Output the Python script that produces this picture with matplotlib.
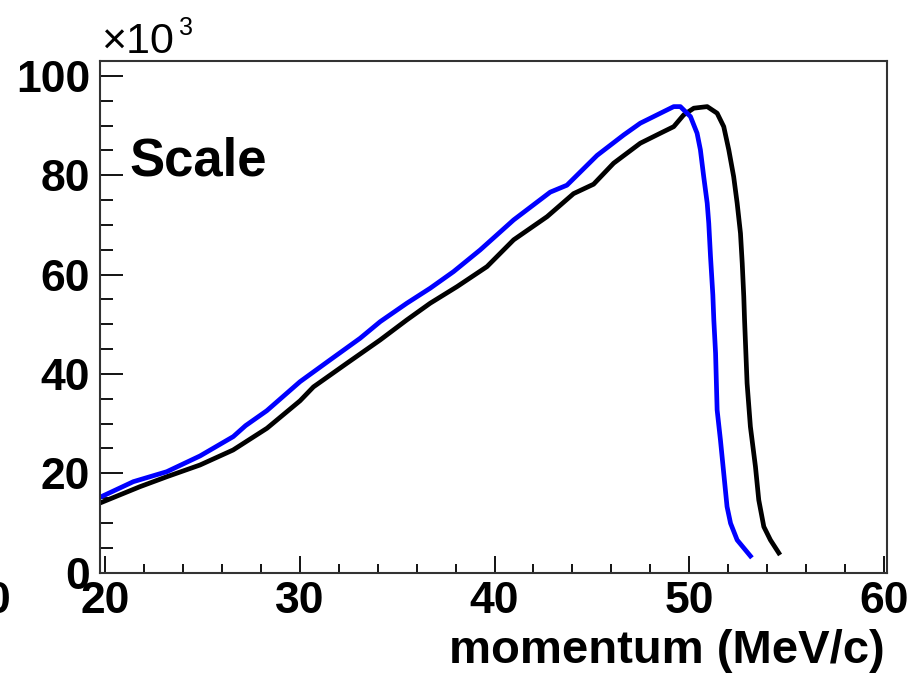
import matplotlib
matplotlib.use("Agg")
import matplotlib.pyplot as plt
from matplotlib.ticker import MultipleLocator

plt.rcParams['font.family'] = ['Liberation Sans', 'DejaVu Sans']
plt.rcParams['font.weight'] = 'bold'

# momentum (MeV/c) and counts (x10^3)
blue_p = [19.72, 21.43, 23.15, 24.86, 26.57, 27.20, 28.29, 30.00, 31.54, 33.09,
          34.12, 35.49, 36.69, 37.89, 39.26, 40.98, 42.86, 43.72, 45.27, 46.64,
          47.49, 48.35, 49.21, 49.55, 50.07, 50.41, 50.58, 50.75, 50.93, 51.01,
          51.10, 51.22, 51.27, 51.36, 51.44, 51.61, 51.78, 51.95, 52.13, 52.47, 53.15]
blue_n = [15.18, 18.32, 20.33, 23.50, 27.40, 29.60, 32.60, 38.45, 42.82, 47.19,
          50.53, 54.24, 57.26, 60.60, 64.97, 71.01, 76.60, 78.00, 84.00, 88.12,
          90.48, 92.15, 93.82, 93.82, 91.81, 88.46, 85.12, 79.73, 74.37, 70.34,
          63.62, 55.90, 50.87, 44.17, 32.76, 26.72, 20.01, 13.29, 9.95, 6.58, 3.36]

black_p = [19.72, 21.77, 23.16, 24.86, 26.56, 28.30, 30.00, 30.69, 32.41, 34.12,
           35.49, 36.69, 38.07, 39.61, 40.98, 42.70, 44.06, 45.09, 46.12, 47.49,
           48.52, 49.21, 49.72, 50.24, 50.93, 51.44, 51.78, 52.04, 52.29, 52.47,
           52.64, 52.73, 52.81, 52.85, 52.98, 53.15, 53.41, 53.58, 53.84, 54.18, 54.61]
black_n = [14.03, 17.31, 19.33, 21.68, 24.70, 29.07, 34.60, 37.40, 42.16, 46.85,
           50.88, 54.24, 57.58, 61.61, 67.00, 71.67, 76.30, 78.20, 82.43, 86.45,
           88.46, 89.79, 92.15, 93.50, 93.82, 92.49, 89.79, 85.10, 79.73, 74.37,
           68.33, 62.29, 55.57, 50.87, 38.13, 29.39, 21.34, 14.64, 9.26, 6.58, 3.97]

fig = plt.figure(figsize=(9.22, 6.74), dpi=100)
ax = fig.add_axes([0.1085, 0.1503, 0.8535, 0.7592])

ax.plot(black_p, black_n, color='black', lw=3.4, solid_joinstyle='round')
ax.plot(blue_p, blue_n, color='#0000ff', lw=3.4, solid_joinstyle='round')

ax.set_xlim(19.72, 60.17)
ax.set_ylim(0, 103)

ax.xaxis.set_major_locator(MultipleLocator(10))
ax.xaxis.set_minor_locator(MultipleLocator(2))
ax.yaxis.set_major_locator(MultipleLocator(20))
ax.yaxis.set_minor_locator(MultipleLocator(5))

ax.tick_params(axis='x', which='major', direction='in', length=12, width=1.3,
               labelsize=32, pad=6)
ax.tick_params(axis='x', which='minor', direction='in', length=6.5, width=1.3)
ax.tick_params(axis='y', which='major', direction='in', length=16.5, width=1.3,
               labelsize=32, pad=7)
ax.tick_params(axis='y', which='minor', direction='in', length=9.5, width=1.3)
for lab in ax.get_xticklabels() + ax.get_yticklabels():
    lab.set_fontweight('bold')

for s in ax.spines.values():
    s.set_linewidth(1.5)
    s.set_color('#333333')

ax.text(0.038, 0.777, 'Scale', transform=ax.transAxes, fontsize=38,
        fontweight='bold', ha='left', va='baseline')

fig.text(885 / 922, 1 - 663 / 674, 'momentum (MeV/c)', fontsize=34,
         fontweight='bold', ha='right', va='baseline')

fig.text(101 / 922, 1 - 53 / 674, '\u00d710', fontsize=31, fontweight='normal',
         ha='left', va='baseline')
fig.text(179 / 922, 1 - 35 / 674, '3', fontsize=18, fontweight='normal',
         ha='left', va='baseline')

# cut-off label of the neighbouring panel at the left edge
fig.text(10 / 922, 1 - 581 / 674, '0', fontsize=32, fontweight='bold',
         ha='right', va='top')

fig.savefig('out.png', dpi=100)
